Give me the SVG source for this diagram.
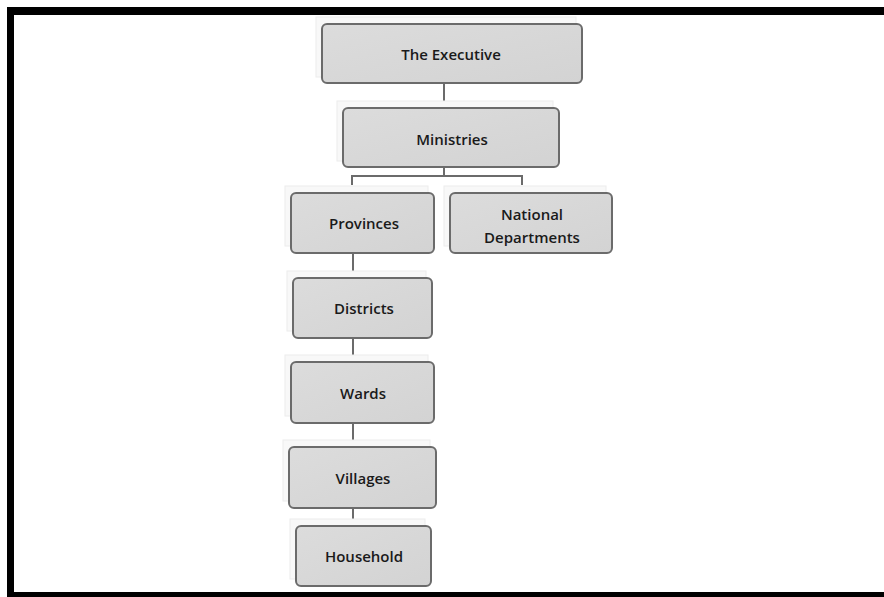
<svg xmlns="http://www.w3.org/2000/svg" width="884" height="597" viewBox="0 0 884 597">
<style>
.sh{fill:#f8f8f8;stroke:#ececec;stroke-width:1}
.box{fill:url(#g);stroke:#6b6b6b;stroke-width:2}
.t{font-family:"Open Sans","Noto Sans","Liberation Sans",sans-serif;font-size:15px;font-weight:600;fill:#1a1a1a;text-anchor:middle;dominant-baseline:central}
.c{stroke:#6b6b6b;stroke-width:2;fill:none}
</style>
<defs>
<linearGradient id="g" x1="0" y1="0" x2="1" y2="1">
<stop offset="0" stop-color="#dcdcdc"/>
<stop offset="1" stop-color="#d3d3d3"/>
</linearGradient>
</defs>
<rect width="884" height="597" fill="#fff"/>
<g id="frame" fill="#000">
<rect x="7" y="7" width="877" height="8"/>
<rect x="7" y="7" width="7" height="590"/>
<rect x="7" y="592" width="877" height="5"/>
</g>
<g id="connectors">
<path class="c" d="M444 83V108"/>
<path class="c" d="M444 167V176M352 185V176H522V185"/>
<path class="c" d="M353 253V278"/>
<path class="c" d="M353 338V362"/>
<path class="c" d="M353 423V447"/>
<path class="c" d="M353 508V526"/>
</g>
<g id="executive">
<rect class="sh" x="316" y="17" width="260" height="60"/>
<rect class="box" x="322" y="24" width="260" height="59" rx="5"/>
<text class="t" x="451" y="54">The Executive</text>
</g>
<g id="ministries">
<rect class="sh" x="337" y="101" width="216" height="60"/>
<rect class="box" x="343" y="108" width="216" height="59" rx="5"/>
<text class="t" x="452" y="139">Ministries</text>
</g>
<g id="provinces">
<rect class="sh" x="285" y="186" width="143" height="60"/>
<rect class="box" x="291" y="193" width="143" height="60" rx="5"/>
<text class="t" x="364" y="223">Provinces</text>
</g>
<g id="national">
<rect class="sh" x="444" y="186" width="162" height="60"/>
<rect class="box" x="450" y="193" width="162" height="60" rx="5"/>
<text class="t" x="532" y="214">National</text>
<text class="t" x="532" y="237">Departments</text>
</g>
<g id="districts">
<rect class="sh" x="287" y="271" width="139" height="60"/>
<rect class="box" x="293" y="278" width="139" height="60" rx="5"/>
<text class="t" x="364" y="308">Districts</text>
</g>
<g id="wards">
<rect class="sh" x="285" y="355" width="143" height="61"/>
<rect class="box" x="291" y="362" width="143" height="61" rx="5"/>
<text class="t" x="363" y="393">Wards</text>
</g>
<g id="villages">
<rect class="sh" x="283" y="440" width="147" height="61"/>
<rect class="box" x="289" y="447" width="147" height="61" rx="5"/>
<text class="t" x="363" y="478">Villages</text>
</g>
<g id="household">
<rect class="sh" x="290" y="519" width="135" height="60"/>
<rect class="box" x="296" y="526" width="135" height="60" rx="5"/>
<text class="t" x="364" y="556">Household</text>
</g>
</svg>
